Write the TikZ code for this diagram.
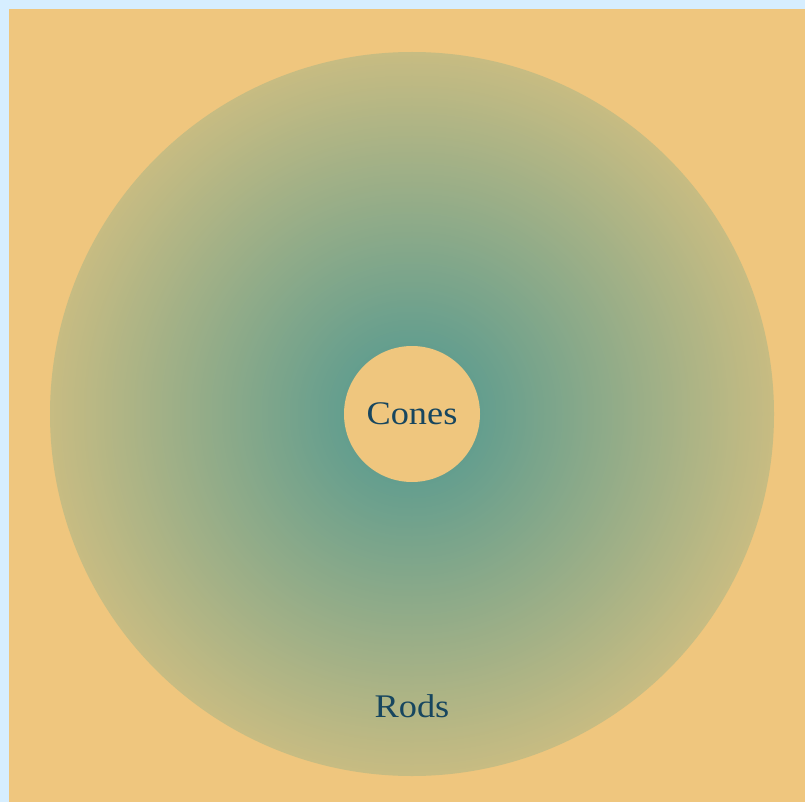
\documentclass[tikz,border=0pt]{standalone}
\usepackage{fontspec}
\setmainfont[FakeStretch=1.1]{Liberation Serif}
\definecolor{frame}{HTML}{D6EEFF}
\definecolor{paper}{HTML}{EFC67E}
\definecolor{cTeal}{RGB}{100,158,142}
\definecolor{cEdge}{RGB}{200,188,130}
\definecolor{ink}{HTML}{17465F}
\tikzset{
  lbl/.style={text=ink, font=\fontsize{33}{33}\selectfont, inner sep=0pt},
  fovea/.style={circle, fill=paper, minimum size=136pt, inner sep=0pt},
}
\begin{document}
\begin{tikzpicture}[x=1pt,y=-1pt]
\useasboundingbox (0,0) rectangle (805,802);
\fill[frame] (0,0) rectangle (805,802);
\fill[paper] (9,9) rectangle (805,802);
\coordinate (c) at (412,414);
\foreach \i in {0,...,147}{
  \pgfmathsetmacro\r{362-2*\i}
  \pgfmathtruncatemacro\p{max(0,min(100,(\r-68)/2.94))}
  \fill[cEdge!\p!cTeal] (c) circle (\r);
}
\node[fovea] (cones) at (c) {};
\node[lbl] (conestxt) at (c) {Cones};
\node[lbl] (rods) at (412,706) {Rods};
\end{tikzpicture}
\end{document}
